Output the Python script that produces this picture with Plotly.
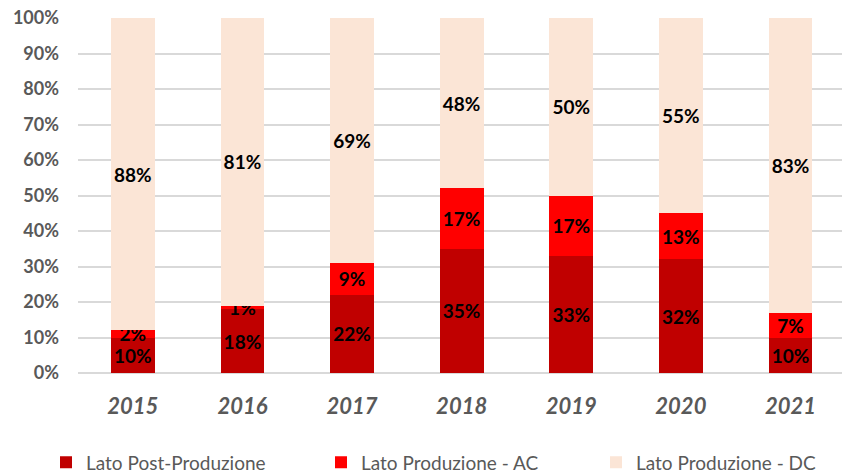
import plotly.graph_objects as go

years = ["2015", "2016", "2017", "2018", "2019", "2020", "2021"]
post_prod = [10, 18, 22, 35, 33, 32, 10]
prod_ac = [2, 1, 9, 17, 17, 13, 7]
prod_dc = [88, 81, 69, 48, 50, 55, 83]
y_ticks = [0, 10, 20, 30, 40, 50, 60, 70, 80, 90, 100]

series = [
    ("Lato Post-Produzione", post_prod, "#C00000"),
    ("Lato Produzione - AC", prod_ac, "#FF0000"),
    ("Lato Produzione - DC", prod_dc, "#FBE5D6"),
]

fig = go.Figure()
for name, vals, col in series:
    fig.add_trace(go.Bar(
        x=years, y=vals, name=name, marker=dict(color=col, line=dict(width=0)),
        text=[f"{v}%" for v in vals], textposition="inside", insidetextanchor="middle",
        textangle=0,
        textfont=dict(family="Lato", size=19, color="black", weight="bold"),
        width=0.4,
    ))

fig.update_layout(
    barmode="stack",
    width=842, height=475,
    margin=dict(l=78, r=0, t=18, b=102, autoexpand=False),
    plot_bgcolor="white", paper_bgcolor="white",
    uniformtext=dict(minsize=19, mode="show"),
    font=dict(family="Lato", color="#595959"),
    xaxis=dict(range=[-0.5, 6.47], tickfont=dict(size=22, weight="bold", style="italic", color="#595959"),
               showline=False, ticks="", showgrid=False, automargin=False, ticklabelstandoff=18),
    yaxis=dict(range=[0, 100], tickvals=y_ticks, ticktext=[f"{v}%" for v in y_ticks],
               tickfont=dict(size=18, weight="bold", color="#595959"),
               showgrid=True, gridcolor="#D9D9D9", gridwidth=1.5, zeroline=True,
               zerolinecolor="#D9D9D9", zerolinewidth=1.5, ticks="", ticklabelstandoff=18,
               automargin=False),
    legend=dict(orientation="h", x=(46 - 78) / 764, xref="paper", y=-0.252, yref="paper",
                yanchor="middle", xanchor="left",
                font=dict(family="Lato", size=19, color="#595959"),
                entrywidth=230, entrywidthmode="pixels", traceorder="normal"),
    bargap=0.6,
)

fig.write_html("out.html", config={"displayModeBar": False},
               post_script="document.body.style.margin='0';")
